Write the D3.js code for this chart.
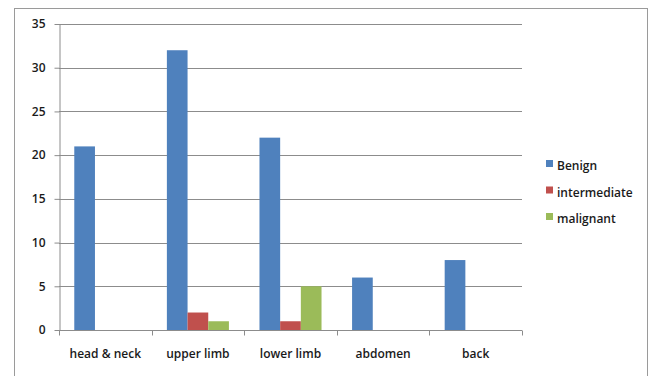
<!DOCTYPE html>
<html>
<head>
<meta charset="utf-8">
<script src="https://cdn.jsdelivr.net/npm/d3@7"></script>
<style>
  html, body { margin: 0; padding: 0; background: #fff; }
  svg { display: block; }
  text { font-family: "Open Sans", "Liberation Sans", sans-serif; fill: #1a1a1a; }
</style>
</head>
<body>
<svg id="chart" width="654" height="376"></svg>
<script>
// Lesion counts by body site and tumour type
const categories = ["head & neck", "upper limb", "lower limb", "abdomen", "back"];
const seriesNames = ["Benign", "intermediate", "malignant"];
const benign       = [21, 32, 22, 6, 8];
const intermediate = [null, 2, 1, null, null];
const malignant    = [null, 1, 5, null, null];
const seriesValues = [benign, intermediate, malignant];
const yTicks = [0, 5, 10, 15, 20, 25, 30, 35];
const colors = ["#4F81BD", "#C0504D", "#9BBB59"];

const svg = d3.select("#chart");

// outer frame
svg.append("rect")
  .attr("x", 14.5).attr("y", 8.5)
  .attr("width", 633).attr("height", 380)
  .attr("fill", "#fff").attr("stroke", "#9a9a9a").attr("stroke-width", 1);

const plot = { left: 59, right: 522, top: 24, bottom: 330 };

const x = d3.scaleBand()
  .domain(categories)
  .range([plot.left, plot.right])
  .paddingInner(0).paddingOuter(0);

const x1 = d3.scaleBand()
  .domain(seriesNames)
  .range([x.bandwidth() * 0.165, x.bandwidth() * 0.835])
  .padding(0);

const y = d3.scaleLinear().domain([0, 35]).range([plot.bottom, plot.top]);

// horizontal gridlines
svg.append("g")
  .selectAll("line")
  .data(yTicks.filter(t => t > 0))
  .join("line")
  .attr("x1", plot.left).attr("x2", plot.right)
  .attr("y1", d => Math.round(y(d)) + 0.5).attr("y2", d => Math.round(y(d)) + 0.5)
  .attr("stroke", "#8c8c8c").attr("stroke-width", 1);

// bars
const rows = [];
seriesNames.forEach((s, si) => {
  categories.forEach((c, ci) => {
    const v = seriesValues[si][ci];
    if (v != null) rows.push({ series: s, cat: c, value: v, color: colors[si] });
  });
});

svg.append("g")
  .selectAll("rect")
  .data(rows)
  .join("rect")
  .attr("x", d => x(d.cat) + x1(d.series))
  .attr("width", x1.bandwidth())
  .attr("y", d => y(d.value))
  .attr("height", d => y(0) - y(d.value))
  .attr("fill", d => d.color);

// y axis
const yAxis = svg.append("g")
  .attr("transform", `translate(${plot.left + 0.5},0)`)
  .call(d3.axisLeft(y).tickValues(yTicks).tickSize(5).tickPadding(9).tickSizeOuter(0));
yAxis.select(".domain").attr("stroke", "#8c8c8c");
yAxis.selectAll(".tick line").attr("stroke", "#8c8c8c");
yAxis.selectAll(".tick text")
  .attr("font-size", 12).attr("font-weight", 600)
  .style("font-family", "'Open Sans', sans-serif").attr("fill", "#1a1a1a");

// x axis with ticks at category boundaries
const xAxisG = svg.append("g").attr("transform", `translate(0,${Math.round(y(0)) + 0.5})`);
xAxisG.append("line")
  .attr("x1", plot.left).attr("x2", plot.right)
  .attr("stroke", "#8c8c8c");
const boundaries = categories.map(c => x(c)).concat([plot.right]);
xAxisG.selectAll("line.tk")
  .data(boundaries)
  .join("line")
  .attr("class", "tk")
  .attr("x1", d => Math.round(d) + 0.5).attr("x2", d => Math.round(d) + 0.5)
  .attr("y1", 0).attr("y2", 5)
  .attr("stroke", "#8c8c8c");
xAxisG.selectAll("text")
  .data(categories)
  .join("text")
  .attr("x", d => x(d) + x.bandwidth() / 2)
  .attr("y", 27)
  .attr("text-anchor", "middle")
  .attr("font-size", 12).attr("font-weight", 600)
  .text(d => d);

// legend
const legend = svg.append("g").attr("transform", "translate(546,166)");
const li = legend.selectAll("g")
  .data(seriesNames)
  .join("g")
  .attr("transform", (d, i) => `translate(0,${i * 26.5})`);
li.append("rect")
  .attr("x", 0).attr("y", -6).attr("width", 7).attr("height", 7)
  .attr("fill", (d, i) => colors[i]);
li.append("text")
  .attr("x", 11).attr("y", 0).attr("dy", "0.35em")
  .attr("font-size", 12).attr("font-weight", 600)
  .text(d => d);
</script>
</body>
</html>
